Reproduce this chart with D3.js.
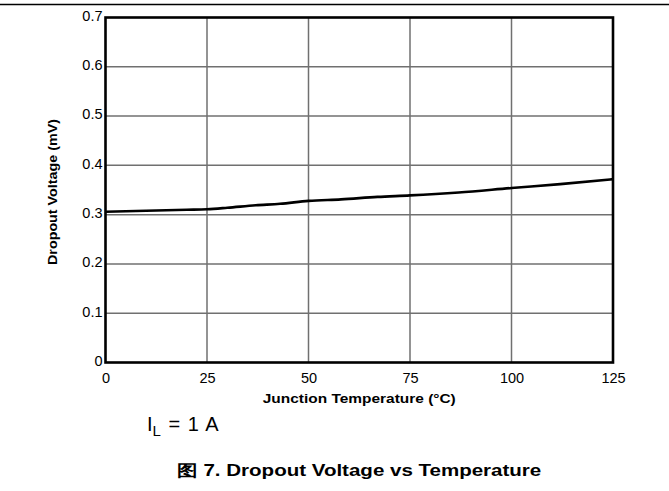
<!DOCTYPE html>
<html>
<head>
<meta charset="utf-8">
<script src="https://cdn.jsdelivr.net/npm/d3@7"></script>
<style>
body { margin: 0; background: #fff; }
text { font-family: "Liberation Sans", Arial, sans-serif; }
</style>
</head>
<body>
<script>
// data
const temps = [0, 10, 20, 25, 30, 37, 43, 50, 58, 67, 75, 87, 100, 112, 125];
const dropout = [0.306, 0.308, 0.310, 0.311, 0.314, 0.319, 0.322, 0.328, 0.331, 0.336, 0.339, 0.345, 0.354, 0.362, 0.372];
const xTicks = [0, 25, 50, 75, 100, 125];
const yTicks = [0, 0.1, 0.2, 0.3, 0.4, 0.5, 0.6, 0.7];

const W = 669, H = 491;
const margin = { top: 17.5, right: 56, bottom: 128.5, left: 105.5 };
const width = W - margin.left - margin.right,
  height = H - margin.top - margin.bottom;

const svg = d3.select('body').append('svg')
  .attr('width', W).attr('height', H);

// page rule at top
svg.append('line')
  .attr('x1', 0).attr('x2', W).attr('y1', 4.5).attr('y2', 4.5)
  .attr('stroke', '#000').attr('stroke-width', 1.5);

const g = svg.append('g')
  .attr('transform', 'translate(' + margin.left + ',' + margin.top + ')');

const x = d3.scaleLinear().domain([0, 125]).range([0, width]);
const y = d3.scaleLinear().domain([0, 0.7]).range([height, 0]);

// grid
g.append('g').selectAll('line').data(xTicks.slice(1, -1)).join('line')
  .attr('x1', d => x(d)).attr('x2', d => x(d))
  .attr('y1', 0).attr('y2', height)
  .attr('stroke', '#707070').attr('stroke-width', 1.5);
g.append('g').selectAll('line').data(yTicks.slice(1, -1)).join('line')
  .attr('x1', 0).attr('x2', width)
  .attr('y1', d => y(d)).attr('y2', d => y(d))
  .attr('stroke', '#707070').attr('stroke-width', 1.5);

// axes (labels only)
const xAxis = g.append('g')
  .attr('transform', 'translate(0,' + height + ')')
  .call(d3.axisBottom(x).tickValues(xTicks).tickSize(0).tickPadding(10));
xAxis.select('.domain').remove();
xAxis.selectAll('text').attr('font-size', 14.5).attr('fill', '#000')
  .style('font-family', '"Liberation Sans", Arial, sans-serif');

const yAxis = g.append('g')
  .call(d3.axisLeft(y).tickValues(yTicks).tickSize(0).tickPadding(3)
    .tickFormat(d => d === 0 ? '0' : d3.format('.1f')(d)));
yAxis.select('.domain').remove();
yAxis.selectAll('text').attr('font-size', 14.5).attr('fill', '#000').attr('dy', '0.2em')
  .style('font-family', '"Liberation Sans", Arial, sans-serif');

// curve
const line = d3.line().x((d, i) => x(temps[i])).y(d => y(d)).curve(d3.curveMonotoneX);
g.append('path').datum(dropout)
  .attr('d', line)
  .attr('fill', 'none').attr('stroke', '#000').attr('stroke-width', 2.6);

// frame
g.append('rect')
  .attr('x', 0).attr('y', 0).attr('width', width).attr('height', height)
  .attr('fill', 'none').attr('stroke', '#000').attr('stroke-width', 2.6);

// axis titles
svg.append('text')
  .attr('x', margin.left + width / 2).attr('y', 403)
  .attr('text-anchor', 'middle').attr('font-size', 12.5).attr('font-weight', 'bold')
  .attr('textLength', 193).attr('lengthAdjust', 'spacingAndGlyphs')
  .text('Junction Temperature (°C)');

svg.append('text')
  .attr('transform', 'translate(57,' + (margin.top + height / 2 + 2) + ') rotate(-90)')
  .attr('text-anchor', 'middle').attr('font-size', 13).attr('font-weight', 'bold')
  .attr('textLength', 146).attr('lengthAdjust', 'spacingAndGlyphs')
  .text('Dropout Voltage (mV)');

// condition note
const note = svg.append('text').attr('x', 147).attr('y', 431)
  .attr('font-size', 20).attr('word-spacing', 2);
note.append('tspan').text('I');
note.append('tspan').attr('font-size', 15).attr('dy', 5).text('L');
note.append('tspan').attr('dy', -5).text(' = 1 A');

// caption
svg.append('text')
  .attr('x', margin.left + width / 2).attr('y', 476)
  .attr('text-anchor', 'middle').attr('font-size', 16).attr('font-weight', 'bold')
  .attr('textLength', 364).attr('lengthAdjust', 'spacingAndGlyphs')
  .text('图 7. Dropout Voltage vs Temperature');
</script>
</body>
</html>
